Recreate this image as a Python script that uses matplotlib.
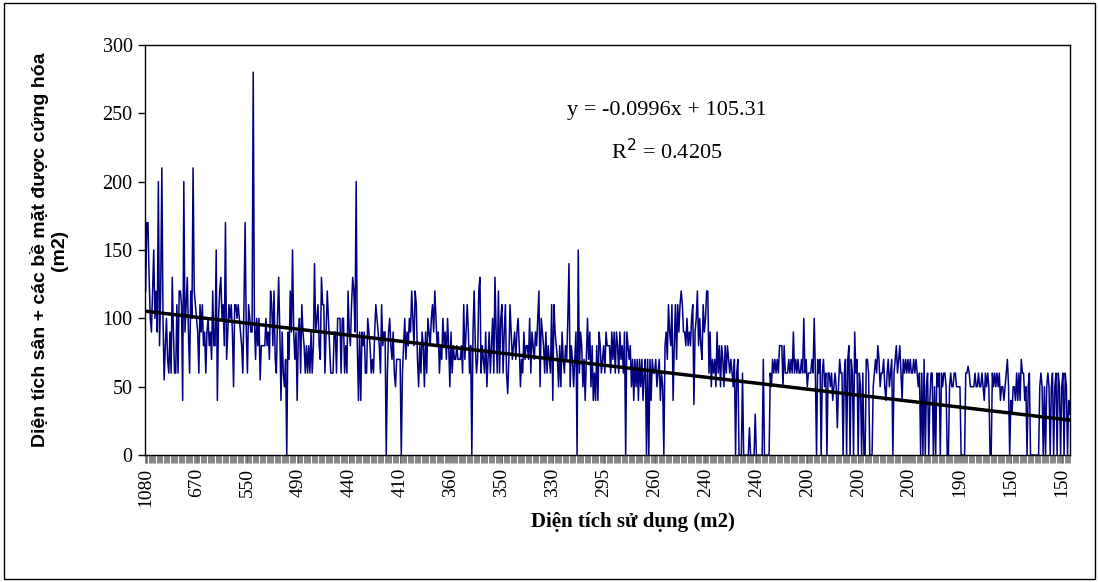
import matplotlib.pyplot as plt
import numpy as np

# Dien tich san + cac be mat duoc cung hoa (m2), doc tu bieu do
san_cung_hoa = [
    120,170,170,130,100,90,120,150,100,120, 90,200,80,120,210,100,55,80,100,70,
    60,90,60,130,90,60,60,110,60,120, 120,110,40,200,90,110,130,90,60,120,
    100,210,120,110,100,90,60,110,90,110, 80,90,60,90,100,80,90,70,120,80,
    80,150,40,100,120,130,100,110,80,170, 70,90,110,100,110,90,50,110,110,100,
    110,100,90,80,60,110,170,90,60,110, 100,90,90,280,100,70,100,80,100,55,
    80,80,80,80,100,80,90,70,120,110, 80,120,70,60,100,130,90,40,90,60,
    50,70,0,90,70,120,90,150,90,70, 90,40,90,100,60,110,90,80,60,80,
    60,80,60,90,60,80,140,90,100,110, 80,70,130,110,110,60,90,120,100,80,
    60,60,60,90,90,60,100,100,100,60, 100,100,60,80,60,120,90,80,110,130,
    120,90,200,80,40,90,40,90,80,90, 60,60,100,90,80,60,70,60,90,110,
    100,90,80,60,110,80,90,90,0,60, 90,100,80,70,90,60,50,70,70,70,
    70,0,60,80,100,70,90,80,100,90, 120,100,80,120,110,70,50,80,60,90,
    80,50,90,60,100,90,80,100,110,90, 120,100,80,90,60,80,70,100,80,90,
    70,100,80,50,90,60,80,70,70,80, 70,70,70,80,60,110,70,90,110,90,
    60,80,0,90,120,80,60,70,120,130, 60,80,70,60,90,50,70,90,60,80,
    100,60,130,90,60,120,60,100,110,60, 90,110,60,45,70,110,90,70,80,90,
    70,90,100,80,50,70,60,90,70,80, 80,70,100,60,90,80,70,90,80,100,
    120,50,100,90,80,60,90,60,80,70, 60,110,40,110,90,80,70,50,80,50,
    90,70,60,80,70,100,140,50,80,70, 50,70,90,0,150,60,90,80,50,70,
    40,70,100,70,90,50,80,40,60,40, 80,40,90,80,60,70,80,60,90,80,
    80,80,60,90,70,90,60,90,80,60, 90,70,80,60,90,0,90,80,70,80,
    50,70,40,70,50,70,40,70,50,70, 40,60,70,0,70,0,70,40,70,60,
    60,70,50,60,70,40,60,50,0,80, 90,70,110,90,80,110,40,80,110,70,
    110,90,110,120,110,90,90,80,100,80, 90,80,100,110,37,90,100,120,80,100,
    80,70,110,90,100,120,120,60,90,50, 70,60,70,50,90,60,80,50,80,70,
    50,80,60,80,70,60,70,60,50,70, 0,60,70,0,0,0,60,0,0,0,
    0,0,20,0,0,0,0,30,0,0, 0,0,0,0,70,0,0,0,0,0,
    60,50,70,60,70,60,70,60,80,80, 80,50,80,60,60,60,70,60,70,60,
    90,60,70,60,70,60,60,70,60,100, 60,70,50,60,60,60,70,60,100,60,
    0,70,60,70,0,60,70,50,60,0, 60,60,50,60,40,50,60,50,20,50,
    70,60,60,0,60,70,0,70,80,0, 70,60,0,90,60,70,0,60,50,0,
    60,0,0,70,70,60,0,0,0,50, 60,70,60,80,70,50,60,60,70,50,
    40,60,70,50,60,70,0,60,70,80, 60,70,80,60,40,70,60,70,60,70,
    60,70,60,60,70,60,70,60,50,60, 0,60,0,70,0,50,60,0,40,60,
    60,0,50,0,60,50,60,0,60,50, 60,60,50,0,0,50,60,50,50,60,
    60,50,50,50,50,0,0,0,0,60, 60,65,60,50,50,50,50,60,50,50,
    60,50,50,60,50,40,60,50,60,50, 0,0,60,50,60,50,60,50,60,40,
    50,50,40,50,60,70,50,0,40,30, 50,50,40,60,40,60,40,70,60,60,
    40,50,0,50,60,0,0,0,0,0, 0,0,0,50,60,50,0,50,0,50,
    60,50,0,50,60,0,50,60,0,60, 50,0,50,60,0,60,50,0,40,30,
]

# nhan truc x (dien tich su dung), hien thi cu 44 diem
nhan_x = ["1080", "670", "550", "490", "440", "410", "360", "350", "330", "295",
          "260", "240", "240", "200", "200", "200", "190", "150", "150"]
buoc_nhan = 44

# duong xu huong tuyen tinh
he_so_a = -0.0996
he_so_b = 105.31

n = len(san_cung_hoa)
x = np.arange(n)

fig = plt.figure(figsize=(10.99, 5.82), dpi=100, facecolor="white")
ax = fig.add_axes([0.132, 0.218, 0.842, 0.705])

ax.plot(x, san_cung_hoa, color="#000080", lw=1.1)
xt = np.arange(1, n + 1)
ax.plot(x, he_so_a * xt + he_so_b, color="black", lw=2.5)

ax.set_xlim(-0.5, n - 0.5)
ax.set_ylim(0, 300)
ax.set_yticks(np.arange(0, 301, 50))

serif = ["Liberation Serif", "DejaVu Serif"]
sans = ["Liberation Sans", "DejaVu Sans"]

ax.set_xticks(np.arange(0, n, buoc_nhan)[:len(nhan_x)])
ax.set_xticklabels(nhan_x, rotation=90, family=serif, fontsize=14)
ax.set_xticks(np.arange(-0.5, n, 1), minor=True)
ax.tick_params(axis="x", which="minor", length=6, width=0.5, direction="out", color="#555555")
ax.tick_params(axis="x", which="major", length=6, width=0.5, direction="out", color="#555555", pad=3)
for lab in ax.get_yticklabels():
    lab.set_family(serif)
    lab.set_fontsize(14.5)
ax.tick_params(axis="y", length=5, width=1, direction="out", pad=4)

for s in ax.spines.values():
    s.set_linewidth(1)

fig.text(633 / 1099, 1 - 522 / 582, "Diện tích sử dụng (m2)", family=serif, fontsize=15,
         fontweight="bold", ha="center", va="center")
fig.text(49 / 1099, 1 - 250 / 582, "Diện tích sân + các bề mặt được cứng hóa\n(m2)",
         family=sans, fontsize=14, fontweight="bold", rotation=90, ha="center", va="center",
         linespacing=1.15, multialignment="center")

ax.text(0.564, 0.841, "y = -0.0996x + 105.31", transform=ax.transAxes, family=serif,
        fontsize=16, ha="center", va="center")
ax.text(0.564, 0.739, "R$^2$ = 0.4205", transform=ax.transAxes, family=serif,
        fontsize=16, ha="center", va="center")

# khung ngoai bieu do
fig.patches.append(plt.Rectangle((0.004, 0.006), 0.992, 0.988, transform=fig.transFigure,
                                 fill=False, edgecolor="black", lw=1))

fig.savefig("out.png", dpi=100, facecolor="white")
